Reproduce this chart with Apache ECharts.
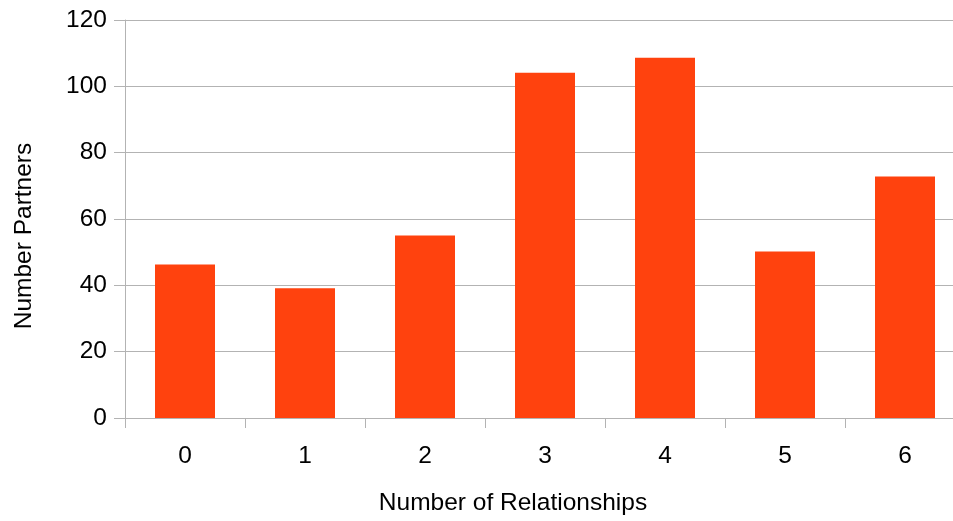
<!DOCTYPE html>
<html>
<head>
<meta charset="utf-8">
<title>Number of Relationships</title>
<script src="https://cdn.jsdelivr.net/npm/echarts@6/dist/echarts.min.js"></script>
<style>
  html, body { margin: 0; padding: 0; background: #ffffff; overflow: hidden; }
  /* the plot runs slightly past the right edge of the page, as in the original export */
  #chart { width: 965px; height: 521px; }
</style>
</head>
<body>
<div id="chart"></div>
<script>
// Categories on the x axis: number of relationships
const relationships = ['0', '1', '2', '3', '4', '5', '6'];
// Bar heights: number of partners per category
const partners = [46.3, 39.1, 55.0, 104.1, 108.6, 50.2, 72.8];
// Value axis range
const yMin = 0;
const yMax = 120;
const yStep = 20;

const FONT = '"Liberation Sans", Arial, sans-serif';
const GRID_COLOR = '#b3b3b3';

const chart = echarts.init(document.getElementById('chart'), null, { renderer: 'canvas' });

chart.setOption({
  animation: false,
  backgroundColor: '#ffffff',
  grid: { left: 125, top: 20, bottom: 101, right: 0, containLabel: false },
  xAxis: {
    type: 'category',
    data: relationships,
    name: 'Number of Relationships',
    nameLocation: 'middle',
    nameGap: 73,
    nameTextStyle: { fontFamily: FONT, fontSize: 24.5, color: '#000000', padding: [0, 64, 0, 0] },
    axisLine: { show: true, lineStyle: { color: GRID_COLOR, width: 1 } },
    axisTick: { show: true, length: 10, alignWithLabel: false, lineStyle: { color: GRID_COLOR } },
    axisLabel: { fontFamily: FONT, fontSize: 24.5, color: '#000000', margin: 26 },
    splitLine: { show: false }
  },
  yAxis: {
    type: 'value',
    min: yMin,
    max: yMax,
    interval: yStep,
    name: 'Number Partners',
    nameLocation: 'middle',
    nameGap: 88,
    nameTextStyle: { fontFamily: FONT, fontSize: 24.5, color: '#000000', padding: [0, 34, 0, 0] },
    axisLine: { show: true, lineStyle: { color: GRID_COLOR, width: 1 } },
    axisTick: { show: true, length: 11, lineStyle: { color: GRID_COLOR } },
    axisLabel: { fontFamily: FONT, fontSize: 24.5, color: '#000000', margin: 18 },
    splitLine: { show: true, lineStyle: { color: GRID_COLOR, width: 1 } }
  },
  series: [{
    type: 'bar',
    data: partners,
    barWidth: 60,
    itemStyle: { color: '#ff420e' },
    emphasis: { disabled: true }
  }]
});
</script>
</body>
</html>
